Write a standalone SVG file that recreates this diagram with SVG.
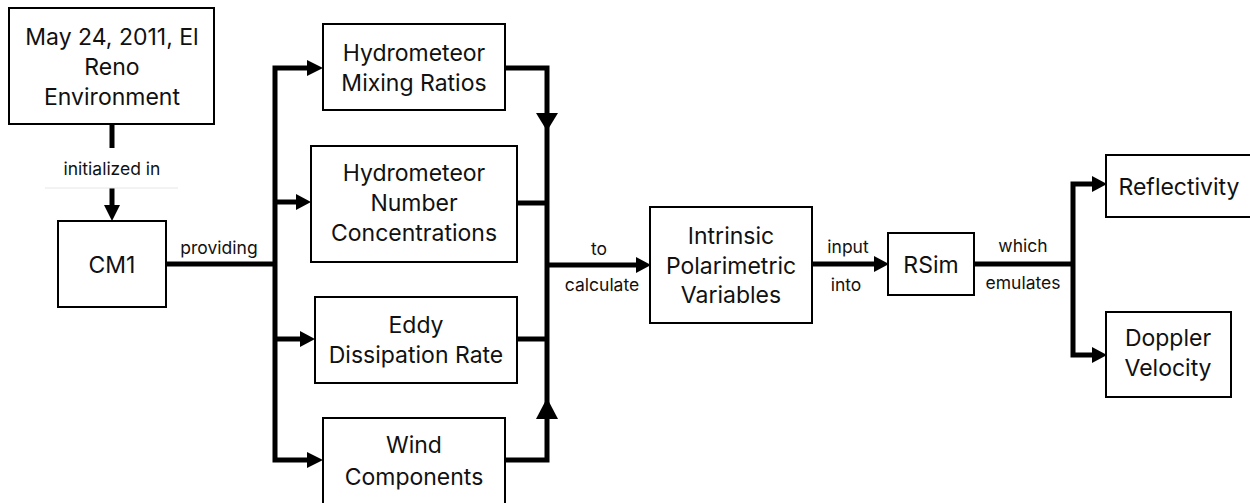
<svg xmlns="http://www.w3.org/2000/svg" width="1250" height="503" viewBox="0 0 1250 503">
<style>
.box{fill:#fff;stroke:#000;stroke-width:2}
.t{font-family:Inter,"Noto Sans","Liberation Sans",sans-serif;font-size:23px;fill:#111;text-anchor:middle}
.l{font-family:Inter,"Noto Sans","Liberation Sans",sans-serif;font-size:17.5px;fill:#111;text-anchor:middle}
.c{fill:none;stroke:#000;stroke-width:5;stroke-linejoin:miter;stroke-linecap:butt}
.ah{fill:#000;stroke:none}
</style>
<rect width="1250" height="503" fill="#fff"/>
<g id="connectors">
<path class="c" d="M112 124 V148"/>
<path class="c" d="M112 188 V206"/>
<polygon class="ah" points="104,205 120,205 112,221"/>
<line x1="45" y1="188" x2="178" y2="188" stroke="#e6e6e6" stroke-width="1"/>
<path class="c" d="M166 264 H275"/>
<path class="c" d="M309 68 H275 V460 H309"/>
<path class="c" d="M275 202 H298"/>
<path class="c" d="M275 339 H301"/>
<polygon class="ah" points="307,60 323,68 307,76"/>
<polygon class="ah" points="296,194 311,202 296,210"/>
<polygon class="ah" points="300,331 315,339 300,347"/>
<polygon class="ah" points="307,452 323,460 307,468"/>
<path class="c" d="M505 68 H547 V460 H505"/>
<path class="c" d="M517 203 H547"/>
<path class="c" d="M517 339 H547"/>
<polygon class="ah" points="536,113 558,113 547,131"/>
<polygon class="ah" points="536,419 558,419 547,398"/>
<path class="c" d="M547 265 H638"/>
<polygon class="ah" points="636,257 651,265 636,273"/>
<path class="c" d="M812 264 H876"/>
<polygon class="ah" points="874,256 889,264 874,272"/>
<path class="c" d="M974 264 H1073"/>
<path class="c" d="M1094 184 H1073 V355 H1094"/>
<polygon class="ah" points="1092,176 1107,184 1092,192"/>
<polygon class="ah" points="1092,347 1107,355 1092,363"/>
<text class="l" x="112" y="175">initialized in</text>
<text class="l" x="219" y="254">providing</text>
<text class="l" x="599" y="255">to</text>
<text class="l" x="602" y="291">calculate</text>
<text class="l" x="848" y="253">input</text>
<text class="l" x="846" y="291">into</text>
<text class="l" x="1023" y="252">which</text>
<text class="l" x="1023" y="289">emulates</text>
</g>
<g id="env">
<rect class="box" x="9" y="8" width="205" height="116"/>
<text class="t" x="112" y="45">May 24, 2011, El</text>
<text class="t" x="112" y="75">Reno</text>
<text class="t" x="112" y="105">Environment</text>
</g>
<g id="cm1">
<rect class="box" x="58" y="221" width="108" height="86"/>
<text class="t" x="112" y="273">CM1</text>
</g>
<g id="hmr">
<rect class="box" x="323" y="24" width="182" height="86"/>
<text class="t" x="414" y="61">Hydrometeor</text>
<text class="t" x="414" y="91">Mixing Ratios</text>
</g>
<g id="hnc">
<rect class="box" x="311" y="146" width="206" height="116"/>
<text class="t" x="414" y="181">Hydrometeor</text>
<text class="t" x="414" y="211">Number</text>
<text class="t" x="414" y="241">Concentrations</text>
</g>
<g id="edr">
<rect class="box" x="315" y="297" width="202" height="86"/>
<text class="t" x="416" y="333">Eddy</text>
<text class="t" x="416" y="363">Dissipation Rate</text>
</g>
<g id="wind">
<rect class="box" x="323" y="418" width="182" height="90"/>
<text class="t" x="414" y="453">Wind</text>
<text class="t" x="414" y="485">Components</text>
</g>
<g id="ipv">
<rect class="box" x="650" y="207" width="162" height="116"/>
<text class="t" x="731" y="244">Intrinsic</text>
<text class="t" x="731" y="274">Polarimetric</text>
<text class="t" x="731" y="303">Variables</text>
</g>
<g id="rsim">
<rect class="box" x="888" y="233" width="86" height="62"/>
<text class="t" x="931" y="273">RSim</text>
</g>
<g id="refl">
<rect class="box" x="1106" y="155" width="148" height="62"/>
<text class="t" x="1179" y="195">Reflectivity</text>
</g>
<g id="dopp">
<rect class="box" x="1106" y="312" width="125" height="85"/>
<text class="t" x="1168" y="346">Doppler</text>
<text class="t" x="1168" y="376">Velocity</text>
</g>
</svg>
